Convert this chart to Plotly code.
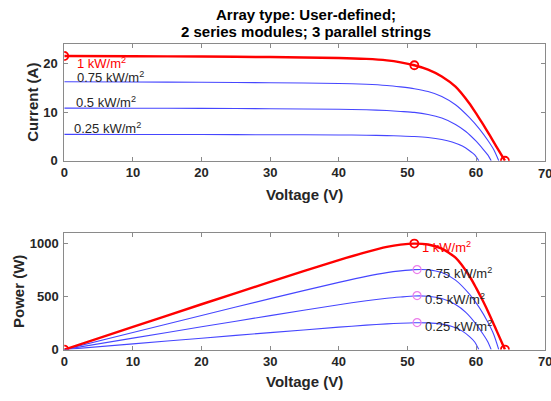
import plotly.graph_objects as go

# I-V characteristics of the PV array at four irradiance levels
labels = ["1 kW/m<sup>2</sup>", "0.75 kW/m<sup>2</sup>", "0.5 kW/m<sup>2</sup>", "0.25 kW/m<sup>2</sup>"]

v_1000 = [0, 10, 20, 30, 40, 44, 47, 49, 51, 53, 55, 57, 59, 60, 61, 62, 63, 64.2]
i_1000 = [21.5, 21.45, 21.38, 21.28, 21.1, 20.9, 20.6, 20.2, 19.6, 18.7, 17.3, 15.2, 11.8, 9.7, 7.5, 5.2, 2.8, 0]

v_750 = [0, 10, 20, 30, 40, 44, 47, 49, 51, 53, 55, 57, 59, 60.5, 61.7, 62.6, 63.3]
i_750 = [16.2, 16.16, 16.1, 16.02, 15.85, 15.7, 15.45, 15.15, 14.78, 14.2, 13.2, 11.5, 8.9, 6.5, 4.2, 2.2, 0]

v_500 = [0, 10, 20, 30, 40, 44, 47, 49, 51, 53, 55, 57, 58.5, 60, 61, 61.7, 62.2]
i_500 = [10.8, 10.78, 10.74, 10.68, 10.57, 10.47, 10.3, 10.12, 9.92, 9.5, 8.75, 7.45, 6.0, 4.0, 2.4, 1.2, 0]

v_250 = [0, 10, 20, 30, 40, 44, 47, 49, 51, 53, 55, 56.5, 58, 59, 59.8, 60.4]
i_250 = [5.4, 5.39, 5.37, 5.34, 5.29, 5.24, 5.16, 5.08, 4.97, 4.76, 4.36, 3.85, 3.0, 2.1, 1.2, 0]

# Maximum power points
mpp_v = [51.0, 51.4, 51.4, 51.4]
mpp_p = [1000, 755, 509, 255]

# Short-circuit current / open-circuit voltage of the 1 kW/m2 curve
isc_1000 = 21.5
voc_1000 = 64.2
impp_1000 = 19.6

x_ticks = [0, 10, 20, 30, 40, 50, 60, 70]
i_ticks = [0, 10, 20]
p_ticks = [0, 500, 1000]

curves = [(v_1000, i_1000), (v_750, i_750), (v_500, i_500), (v_250, i_250)]

RED = "#ff0000"
BLUE = "rgb(70,70,255)"
MAGENTA = "rgb(235,125,235)"
AXIS = "#8a8a8a"
TXT = "#262626"
FONT = "Liberation Sans, Arial, sans-serif"

fig = go.Figure()

# blue curves drawn first, red (1 kW/m2) on top
for k in [3, 2, 1, 0]:
    v, cur = curves[k]
    p = [a * b for a, b in zip(v, cur)]
    col = RED if k == 0 else BLUE
    w = 2.4 if k == 0 else 1.1
    fig.add_trace(go.Scatter(x=v, y=cur, mode="lines", xaxis="x", yaxis="y",
                             line=dict(color=col, width=w, shape="spline", smoothing=0.6),
                             showlegend=False, hoverinfo="skip"))
    fig.add_trace(go.Scatter(x=v, y=p, mode="lines", xaxis="x2", yaxis="y2",
                             line=dict(color=col, width=w, shape="spline", smoothing=0.6),
                             showlegend=False, hoverinfo="skip"))

# red markers: Isc, MPP, Voc on the I-V plot
fig.add_trace(go.Scatter(x=[0, mpp_v[0], voc_1000], y=[isc_1000, impp_1000, 0],
                         mode="markers", xaxis="x", yaxis="y",
                         marker=dict(symbol="circle-open", size=8, color=RED, line=dict(width=1.8)),
                         showlegend=False, hoverinfo="skip"))
# MPP markers of the reduced irradiance curves on the P-V plot
fig.add_trace(go.Scatter(x=mpp_v[1:], y=mpp_p[1:], mode="markers", xaxis="x2", yaxis="y2",
                         marker=dict(symbol="circle-open", size=8, color=MAGENTA, line=dict(width=1.2)),
                         showlegend=False, hoverinfo="skip"))
fig.add_trace(go.Scatter(x=[0, mpp_v[0], voc_1000], y=[0, mpp_p[0], 0],
                         mode="markers", xaxis="x2", yaxis="y2",
                         marker=dict(symbol="circle-open", size=8, color=RED, line=dict(width=1.8)),
                         showlegend=False, hoverinfo="skip"))

ann = []
# irradiance labels on the I-V plot
iv_label_y = [20.0, 17.2, 12.1, 6.8]
iv_label_x = [1.5, 1.5, 1.4, 1.1]
for k in range(4):
    ann.append(dict(x=iv_label_x[k], y=iv_label_y[k], xref="x", yref="y", text=labels[k],
                    showarrow=False, xanchor="left", yanchor="middle",
                    font=dict(family=FONT, size=13, color=RED if k == 0 else TXT)))
# irradiance labels next to each MPP on the P-V plot
for k in range(4):
    ann.append(dict(x=mpp_v[k] + 0.8, y=mpp_p[k] - 30, xref="x2", yref="y2", text=labels[k],
                    showarrow=False, xanchor="left", yanchor="middle",
                    font=dict(family=FONT, size=13, color=RED if k == 0 else TXT)))

# the last x tick label sits at the page edge and is only partly visible
tick_font = dict(family=FONT, size=13, color=TXT, weight="bold")
for xa, ypx in (("x", 177), ("x2", 369)):
    ann.append(dict(x=70, y=1 - ypx / 401, xref=xa, yref="paper", text="70",
                    showarrow=False, xanchor="center", yanchor="middle", font=tick_font))

# titles and axis labels
title_font = dict(family=FONT, size=15, color="#000000", weight="bold")
ann.append(dict(x=304 / 551, y=1 - 15 / 401, xref="paper", yref="paper", text="Array type: User-defined;",
                showarrow=False, xanchor="center", yanchor="middle", font=title_font))
ann.append(dict(x=304 / 551, y=1 - 32 / 401, xref="paper", yref="paper", text="2 series modules; 3 parallel strings",
                showarrow=False, xanchor="center", yanchor="middle", font=title_font))
lab_font = dict(family=FONT, size=15, color=TXT, weight="bold")
ann.append(dict(x=303 / 551, y=1 - 198 / 401, xref="paper", yref="paper", text="Voltage (V)",
                showarrow=False, xanchor="center", yanchor="middle", font=lab_font))
ann.append(dict(x=303 / 551, y=1 - 389 / 401, xref="paper", yref="paper", text="Voltage (V)",
                showarrow=False, xanchor="center", yanchor="middle", font=lab_font))
ann.append(dict(x=29 / 551, y=1 - 104 / 401, xref="paper", yref="paper", text="Current (A)",
                showarrow=False, xanchor="center", yanchor="middle", textangle=-90, font=lab_font))
ann.append(dict(x=14 / 551, y=1 - 297 / 401, xref="paper", yref="paper", text="Power (W)",
                showarrow=False, xanchor="center", yanchor="middle", textangle=-90, font=lab_font))

xdom = [60.7 / 551, 544.7 / 551]
common = dict(showline=True, linecolor=AXIS, linewidth=1, mirror="ticks", ticks="inside",
              ticklen=4, tickcolor=AXIS, showgrid=False, zeroline=False, tickfont=tick_font)

fig.update_layout(
    width=551, height=401,
    margin=dict(l=0, r=0, t=0, b=0),
    paper_bgcolor="white", plot_bgcolor="white",
    xaxis=dict(domain=xdom, range=[0, 70], tickvals=x_ticks, anchor="y", **common),
    yaxis=dict(domain=[(401 - 164) / 401, (401 - 44.7) / 401], range=[0, 24], tickvals=i_ticks,
               anchor="x", ticklabelstandoff=3, **common),
    xaxis2=dict(domain=xdom, range=[0, 70], tickvals=x_ticks, anchor="y2", **common),
    yaxis2=dict(domain=[(401 - 356.7) / 401, (401 - 237.7) / 401], range=[0, 1100], tickvals=p_ticks,
                anchor="x2", ticklabelstandoff=2, **common),
    annotations=ann,
)

fig.write_html("out.html")
